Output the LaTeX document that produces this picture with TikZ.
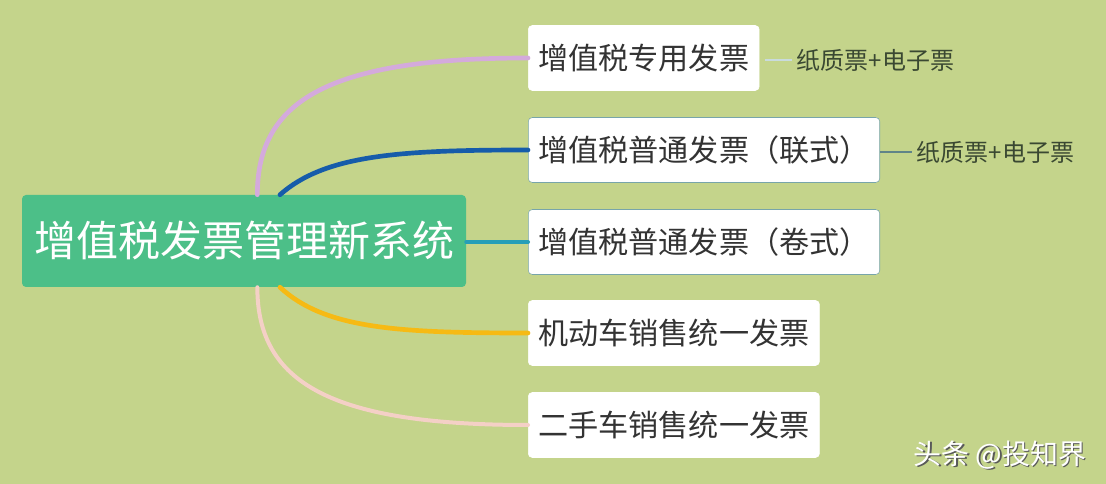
\documentclass[tikz,border=0pt]{standalone}
\usepackage{fontspec}
\setmainfont{Noto Sans CJK SC}
\usetikzlibrary{positioning,calc}

\definecolor{bggreen}{RGB}{196,212,139}
\definecolor{rootgreen}{RGB}{76,191,136}
\definecolor{lilac}{RGB}{212,170,220}
\definecolor{deepblue}{RGB}{22,92,170}
\definecolor{tealblue}{RGB}{38,158,184}
\definecolor{amber}{RGB}{246,186,20}
\definecolor{blush}{RGB}{244,208,198}
\definecolor{boxedge}{RGB}{120,165,170}
\definecolor{notegray}{RGB}{58,72,50}

\tikzset{
  rootbox/.style={fill=rootgreen, text=white, rounded corners=3pt,
    inner xsep=9pt, minimum height=69pt, font=\fontsize{31.5pt}{34pt}\selectfont},
  leafbox/.style={fill=white, draw=white, rounded corners=3pt, anchor=west,
    inner xsep=7.5pt, minimum height=48.75pt, text=black!80,
    font=\fontsize{22.6pt}{24pt}\selectfont},
  notetext/.style={text=notegray, anchor=west, font=\fontsize{18pt}{20pt}\selectfont},
  branch/.style={line width=3.5pt, line cap=round}
}

\begin{document}
\begin{tikzpicture}[x=0.75pt,y=-0.75pt]
    % canvas
    \fill[bggreen] (0,0) rectangle (1106,484);
    \useasboundingbox (0,0) rectangle (1106,484);
    % central topic
    \node[rootbox] (root) at (244,241) {增值税发票管理新系统};
    % invoice types
    \node[leafbox] (vatspecial) at (528,58) {增值税专用发票};
    \node[leafbox, draw=boxedge] (vatroll2) at (528,150) {增值税普通发票（联式）};
    \node[leafbox, draw=boxedge] (vatroll) at (528,242) {增值税普通发票（卷式）};
    \node[leafbox] (motor) at (528,333) {机动车销售统一发票};
    \node[leafbox] (usedcar) at (528,425) {二手车销售统一发票};
    % notes
    \node[notetext] (note1) at (792,60) {纸质票+电子票};
    \node[notetext] (note2) at (912,152) {纸质票+电子票};
    \draw[boxedge!40, line width=0.8pt] ([xshift=4pt]vatspecial.east |- note1.west) -- (note1.west);
    \draw[boxedge!80!black, line width=0.8pt] (vatroll2.east |- note2.west) -- (note2.west);
    % branches
    \draw[branch, lilac] ([xshift=10pt]root.north) .. controls +(0,-95) and (330,58) .. (vatspecial.west);
    \draw[branch, deepblue] ([xshift=27pt]root.north) .. controls +(45,-40) and (400,150) .. (vatroll2.west);
    \draw[branch, tealblue, line width=3pt] (root.east |- vatroll.west) -- (vatroll.west);
    \draw[branch, amber] ([xshift=27pt]root.south) .. controls +(45,42) and (400,333) .. (motor.west);
    \draw[branch, blush, line width=3pt] ([xshift=10pt]root.south) .. controls +(0,95) and (330,425) .. (usedcar.west);
    % signature
    \node[text=black!65, font=\fontsize{21pt}{22pt}\selectfont] at (1001.5,456.5) {头条 @投知界};
    \node[text=white, font=\fontsize{21pt}{22pt}\selectfont] (sign) at (1000,455) {头条 @投知界};
\end{tikzpicture}
\end{document}
